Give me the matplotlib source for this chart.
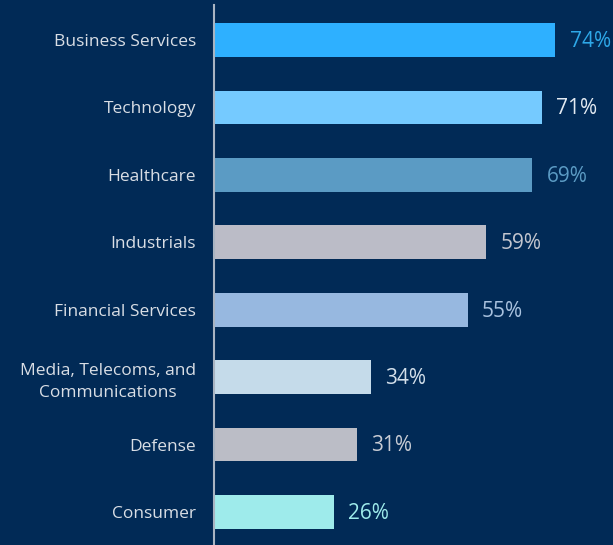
import matplotlib
matplotlib.use("Agg")
import matplotlib.pyplot as plt

# Sector names, shares and colours
sectores = ["Business Services", "Technology", "Healthcare", "Industrials",
            "Financial Services", "Media, Telecoms, and\nCommunications",
            "Defense", "Consumer"]
valores = [74, 71, 69, 59, 55, 34, 31, 26]
colores_barra = ["#2EB0FF", "#75CAFF", "#5B9BC4", "#BBBCC7",
                 "#97B8E0", "#C5DBEA", "#BBBDC6", "#9EEBEB"]
colores_texto = ["#2EA8E8", "#E3EAF2", "#5B9BC4", "#C3C6CF",
                 "#A9C2DF", "#D3DFEA", "#C8CCD4", "#9EEBEB"]

fondo = "#012A56"
plt.rcParams['font.family'] = ['Open Sans', 'DejaVu Sans']

fig = plt.figure(figsize=(6.13, 5.45), dpi=100, facecolor=fondo)
ax = fig.add_axes([214 / 613, 0, 1 - 214 / 613, 540 / 545])
ax.set_facecolor(fondo)

pos = range(len(sectores))
ax.barh(pos, valores, height=0.5, color=colores_barra)
for i, v in enumerate(valores):
    ax.text(v + 3.1, i + 0.02, f"{v}%", va="center", ha="left",
            fontsize=15, color=colores_texto[i])

ax.set_xlim(0, 86.5)
ax.set_ylim(7.49, -0.52)
ax.set_yticks(list(pos))
etiquetas = ax.set_yticklabels(sectores, fontsize=12.5, color="#D9DEE5",
                               ha="right", linespacing=1.5)
for t in etiquetas:
    t.set_multialignment("center")
ax.tick_params(axis="y", length=0, pad=13)
ax.set_xticks([])
for s in ["top", "right", "bottom"]:
    ax.spines[s].set_visible(False)
ax.spines["left"].set_color("#A9B4C2")
ax.spines["left"].set_linewidth(1.5)

fig.savefig("out.png", dpi=100, facecolor=fondo)
